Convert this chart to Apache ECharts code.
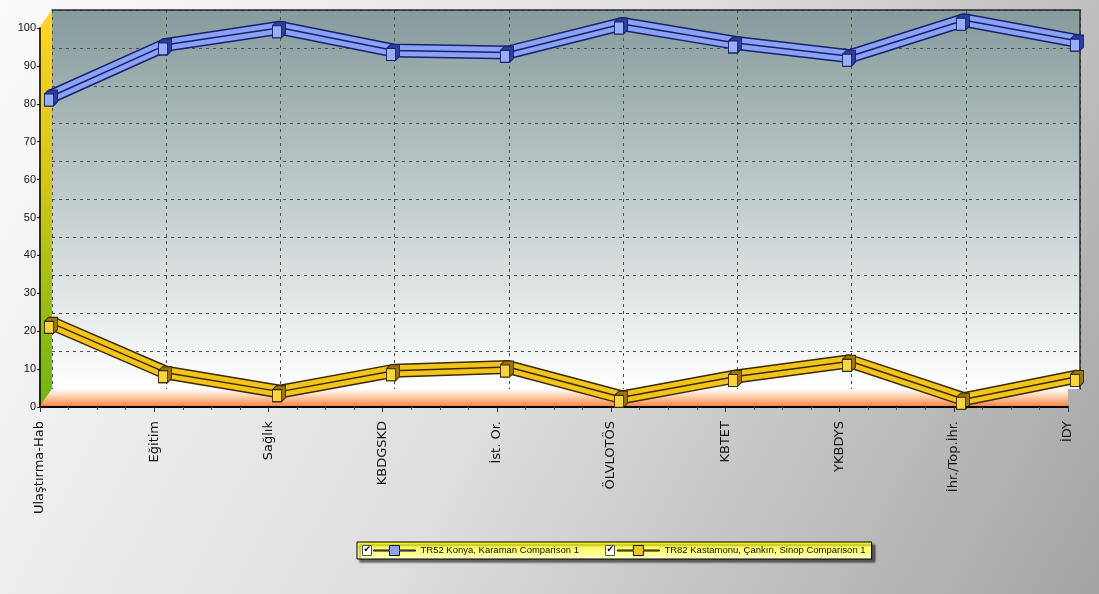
<!DOCTYPE html>
<html>
<head>
<meta charset="utf-8">
<script src="https://cdn.jsdelivr.net/npm/echarts@6/dist/echarts.min.js"></script>
<style>
html,body{margin:0;padding:0;}
#chart{width:1099px;height:594px;}
</style>
</head>
<body>
<div id="chart"></div>
<script>
var categories = ['Ulaştırma-Hab', 'Eğitim', 'Sağlık', 'KBDGSKD', 'İst. Or.', 'ÖLVLOTÖS', 'KBTET', 'YKBDYS', 'İhr./Top.İhr.', 'İDY'];
var konya = [81, 94.5, 99, 93, 92.5, 100, 95, 91.5, 101, 95.5];
var kastamonu = [21, 8, 3, 8.5, 9.5, 1.5, 7, 11, 1, 7];
var yTicks = [0, 10, 20, 30, 40, 50, 60, 70, 80, 90, 100];
var seriesNames = ['TR52 Konya, Karaman Comparison 1', 'TR82 Kastamonu, Çankırı, Sinop Comparison 1'];

window.onload = function(){

    var chart = echarts.init(document.getElementById('chart'));
    var LG = echarts.graphic.LinearGradient;
    var sans = "'Liberation Sans', Arial, sans-serif";

    var blue = {edge: '#17216b', fill: '#8ba1f3', side: '#2c3f9f', front: '#9aaef8'};
    var gold = {edge: '#3a2a00', fill: '#f3c41a', side: '#9c7410', front: '#f8d53a'};
    var cube = 'path://M0,4L4,0L13,0L13,12L9,16L0,16Z';

    // 3d ribbon: dark edge, fill, middle stroke, then the little cubes on top
    function ribbon(name, data, c){
        var base = {name: name, type: 'line', xAxisIndex: 4, yAxisIndex: 3, data: data,
            symbol: 'none', clip: false, silent: true, animation: false};
        return [
            echarts.util.extend({lineStyle: {color: c.edge, width: 14}, z: 3}, base),
            echarts.util.extend({lineStyle: {color: c.fill, width: 11}, z: 3}, base),
            echarts.util.extend({lineStyle: {color: c.edge, width: 1.5}, z: 3}, base),
            {name: name, type: 'scatter', xAxisIndex: 3, yAxisIndex: 2, data: data, clip: false,
                symbol: cube, symbolSize: [13, 16], symbolOffset: [2, -2], z: 4, animation: false,
                itemStyle: {color: c.side, borderColor: c.edge, borderWidth: 1, opacity: 1}},
            {name: name, type: 'scatter', xAxisIndex: 3, yAxisIndex: 2, data: data, clip: false,
                symbol: 'rect', symbolSize: [9, 12], z: 5, animation: false,
                itemStyle: {color: c.front, borderColor: c.edge, borderWidth: 1, opacity: 1}}
        ];
    }

    var hidden = {show: false};
    var dashed = {show: true, lineStyle: {color: '#4f4f4f', type: [3, 4], width: 1}};
    var legendIcon = 'path://M0,4.5L16,4.5L16,0L26,0L26,4.5L42,4.5L42,5.5L26,5.5L26,10L16,10L16,5.5L0,5.5Z';

    function checkbox(x){
        return {type: 'group', left: x, top: 545, z: 20, children: [
            {type: 'rect', z: 20, shape: {x: 0, y: 0, width: 9, height: 10},
                style: {fill: '#fff', stroke: '#555', lineWidth: 1}},
            {type: 'text', z: 21, x: 1, y: 0, style: {text: '✔', font: '9px DejaVu Sans', fill: '#000'}}
        ]};
    }

    var option = {
        animation: false,
        backgroundColor: new LG(0, 0, 1, 1, [
            {offset: 0, color: '#fbfbfb'}, {offset: 0.5, color: '#dedede'}, {offset: 1, color: '#a4a4a4'}
        ]),
        grid: [
            // back wall
            {left: 52, right: 19, top: 10, bottom: 205, show: true, borderWidth: 0,
                backgroundColor: new LG(0, 0, 0, 1, [
                    {offset: 0, color: '#869b9c'}, {offset: 0.55, color: '#c7d1d2'}, {offset: 1, color: '#ffffff'}
                ])},
            // front axes + floor
            {left: 40, right: 31, top: 28, bottom: 187, show: true, borderWidth: 0,
                backgroundColor: new LG(0, 0, 0, 1, [
                    {offset: 0, color: 'rgba(255,255,255,0)'}, {offset: 0.948, color: 'rgba(255,255,255,0)'},
                    {offset: 0.952, color: '#ffffff'}, {offset: 0.975, color: '#fcc8a4'}, {offset: 1, color: '#f6813f'}
                ])},
            // cubes
            {left: 49, right: 24, top: 28, bottom: 187},
            // ribbons
            {left: 52, right: 21, top: 24, bottom: 191}
        ],
        xAxis: [
            {gridIndex: 0, type: 'category', data: categories, boundaryGap: false, position: 'top',
                axisLine: {show: true, onZero: false, lineStyle: {color: '#2a2a2a', width: 1.5}},
                axisTick: hidden, axisLabel: hidden, splitLine: dashed},
            {gridIndex: 1, type: 'category', data: categories, boundaryGap: false, position: 'bottom', z: 5,
                axisLine: {show: true, onZero: false, lineStyle: {color: '#000', width: 2}},
                axisTick: hidden, splitLine: hidden,
                axisLabel: {rotate: 90, margin: 14, fontSize: 13, color: '#111', fontFamily: 'DejaVu Sans', interval: 0}},
            {gridIndex: 1, type: 'value', min: 0, max: categories.length - 1, interval: 1, position: 'bottom', z: 5,
                axisLine: {show: false, onZero: false}, axisLabel: hidden, splitLine: hidden,
                axisTick: {show: true, length: 5, lineStyle: {color: '#333'}},
                minorTick: {show: true, splitNumber: 4, length: 3, lineStyle: {color: '#555'}}},
            {gridIndex: 2, type: 'category', data: categories, boundaryGap: false, show: false},
            {gridIndex: 3, type: 'category', data: categories, boundaryGap: false, show: false}
        ],
        yAxis: [
            {gridIndex: 0, type: 'value', min: yTicks[0], max: yTicks[yTicks.length - 1], interval: 10, position: 'right',
                axisLine: {show: true, onZero: false, lineStyle: {color: '#2a2a2a', width: 1.5}},
                axisTick: hidden, axisLabel: hidden,
                splitLine: echarts.util.extend({showMinLine: false}, dashed)},
            {gridIndex: 1, type: 'value', min: yTicks[0], max: yTicks[yTicks.length - 1], interval: 10, z: 5,
                axisLine: {show: true, onZero: false, lineStyle: {color: '#000', width: 1.5}},
                axisTick: {show: true, length: 3, lineStyle: {color: '#000'}},
                axisLabel: {margin: 4, fontSize: 11, color: '#111', fontFamily: sans},
                splitLine: hidden},
            {gridIndex: 2, type: 'value', min: 0, max: 100, show: false},
            {gridIndex: 3, type: 'value', min: 0, max: 100, show: false}
        ],
        legend: {
            left: 357, top: 542, orient: 'horizontal',
            padding: [3, 6, 3, 16], itemWidth: 42, itemHeight: 10, itemGap: 38,
            selectedMode: false,
            backgroundColor: new LG(0, 0, 0, 1, [
                {offset: 0, color: '#ffff1e'}, {offset: 1, color: '#ffffcc'}
            ]),
            borderColor: '#000', borderWidth: 1,
            shadowColor: 'rgba(0,0,0,0.55)', shadowBlur: 2, shadowOffsetX: 3, shadowOffsetY: 3,
            textStyle: {fontFamily: sans, fontSize: 9.5, color: '#111'},
            data: [
                {name: seriesNames[0], icon: legendIcon, itemStyle: {color: '#8ba1f3', borderColor: '#111', borderWidth: 1}},
                {name: seriesNames[1], icon: legendIcon, itemStyle: {color: '#f3c41a', borderColor: '#111', borderWidth: 1}}
            ]
        },
        graphic: [
            // left wall of the 3d box
            {type: 'polygon', z: 1, silent: true,
                shape: {points: [[39, 28], [52, 10], [52, 389], [39, 407]]},
                style: {fill: new LG(0, 0, 0, 1, [
                    {offset: 0, color: '#ffd52a'}, {offset: 0.45, color: '#cfc61c'}, {offset: 1, color: '#6db414'}
                ])}},
            checkbox(362),
            checkbox(605)
        ],
        series: ribbon(seriesNames[0], konya, blue).concat(ribbon(seriesNames[1], kastamonu, gold))
    };

    chart.setOption(option);
}
</script>
</body>
</html>
